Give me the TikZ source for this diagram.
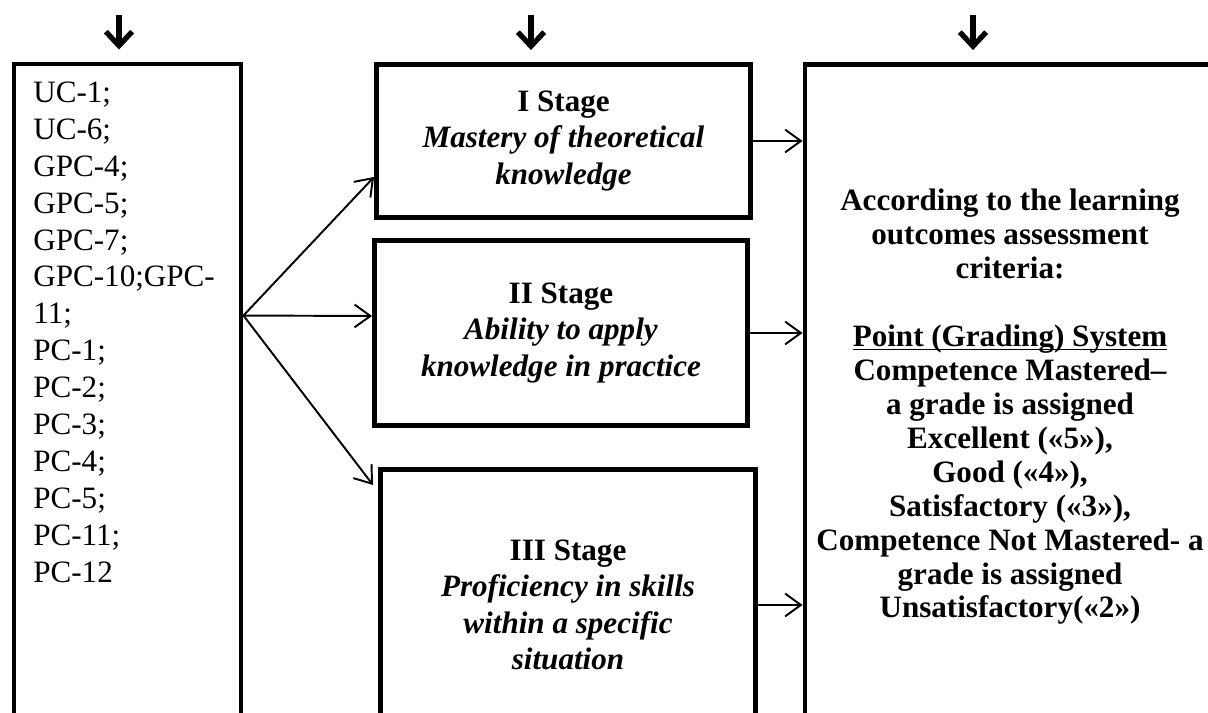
\documentclass[tikz,border=0pt]{standalone}
\usepackage{fontspec}
\setmainfont{Liberation Serif}
\usetikzlibrary{arrows.meta}
\tikzset{
	box/.style={draw, line width=2.8pt, inner sep=0pt},
	txt/.style={font=\fontsize{17.7}{20.8}\selectfont, align=center},
	link/.style={line width=1.1pt, -{Straight Barb[length=9pt,width=13pt]}},
	inarrow/.style={line width=3pt, -{Straight Barb[length=8pt,width=15pt]}}
}

\begin{document}
\begin{tikzpicture}
	\useasboundingbox (0,0) rectangle (24.16,14.26);
	\clip (0,0) rectangle (24.16,14.26);
	\node[box, minimum width=4.54cm, minimum height=13.92cm] (comp) at (2.55,6.02) {};
	\node[txt, font=\fontsize{17.7}{21}\selectfont, align=left, anchor=north west, inner sep=0pt] (complist) at (0.66,12.63) {UC-1;\\UC-6;\\GPC-4;\\GPC-5;\\GPC-7;\\GPC-10;GPC-\\11;\\PC-1;\\PC-2;\\PC-3;\\PC-4;\\PC-5;\\PC-11;\\PC-12};
	\node[box, txt, minimum width=7.48cm, minimum height=3.06cm] (stageI) at (11.27,11.44) {\textbf{I Stage}\\\textbf{\textit{Mastery of theoretical}}\\\textbf{\textit{knowledge}}};
	\node[box, txt, minimum width=7.46cm, minimum height=3.70cm] (stageII) at (11.22,7.60) {\textbf{II Stage}\\\textbf{\textit{Ability to apply}}\\\textbf{\textit{knowledge in practice}}};
	\node[box, txt, minimum width=7.50cm, minimum height=5.42cm] (stageIII) at (11.36,2.16) {\textbf{III Stage}\\\textbf{\textit{Proficiency in skills}}\\\textbf{\textit{within a specific}}\\\textbf{\textit{situation}}};
	\node[box, txt, font=\fontsize{17.7}{19.3}\selectfont\bfseries, minimum width=8.2cm, minimum height=13.70cm] (result) at (20.2,6.12) {According to the learning\\outcomes assessment\\criteria:\\[19.3pt]\underline{\smash{Point (Grading) System}}\\Competence Mastered–\\a grade is assigned\\Excellent («5»),\\Good («4»),\\Satisfactory («3»),\\Competence Not Mastered- a\\grade is assigned\\Unsatisfactory(«2»)};
	\coordinate (fork) at ([yshift=-5.08cm]comp.north east);
	\draw[link] (fork) -- ([yshift=-0.72cm]stageI.west);
	\draw[link] (fork) -- ([yshift=0.34cm]stageII.west);
	\draw[link] (fork) -- ([shift={(-0.1,-0.36)}]stageIII.north west);
	\draw[link] (stageI.east) -- (stageI.east -| result.west);
	\draw[link] (stageII.east) -- (stageII.east -| result.west);
	\draw[link] (stageIII.east) -- (stageIII.east -| result.west);
	\coordinate (in1) at (2.38,13.96);
	\coordinate (in2) at (10.62,13.96);
	\coordinate (in3) at (19.46,13.96);
	\foreach \c/\b in {in1/comp,in2/stageI,in3/result}
		\draw[inarrow, shorten >=0.24cm] (\c) -- (\c |- \b.north);
\end{tikzpicture}
\end{document}
